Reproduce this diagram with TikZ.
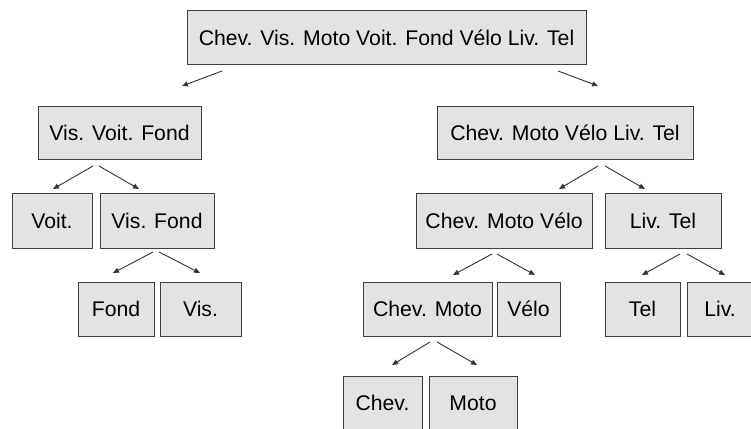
\documentclass[tikz,border=0pt]{standalone}
\usepackage{fontspec}
\setmainfont{Liberation Sans}
\usetikzlibrary{arrows.meta}
\definecolor{boxfill}{HTML}{E3E3E3}
\definecolor{boxline}{HTML}{404040}
\definecolor{arrcol}{HTML}{333333}
\tikzset{
  box/.style={draw=boxline, fill=boxfill, line width=1pt, inner sep=0pt,
    minimum height=54pt, font=\fontsize{21.2}{24}\selectfont},
  arr/.style={draw=arrcol, line width=0.9pt, -{Triangle[length=6pt,width=5pt]}}
}
\begin{document}
\begin{tikzpicture}[x=1pt,y=-1pt]
\clip (0,0) rectangle (751,428);
\fill[white] (0,0) rectangle (751,428);
\node[box, minimum width=399pt, minimum height=53pt] (root) at (386.5,37.5) {Chev. Vis. Moto Voit. Fond Vélo Liv. Tel};
\node[box, minimum width=163pt, minimum height=53pt] (vvf) at (119.5,132.5) {Vis. Voit. Fond};
\node[box, minimum width=256pt, minimum height=53pt] (cmvlt) at (565,132.5) {Chev. Moto Vélo Liv. Tel};
\node[box, minimum width=80pt, minimum height=55pt] (voit) at (52,220.5) {Voit.};
\node[box, minimum width=114pt, minimum height=55pt] (vf) at (157,220.5) {Vis. Fond};
\node[box, minimum width=176pt, minimum height=55pt] (cmv) at (504,220.5) {Chev. Moto Vélo};
\node[box, minimum width=116pt, minimum height=55pt] (lt) at (663,220.5) {Liv. Tel};
\node[box, minimum width=76pt] (fond) at (116,309) {Fond};
\node[box, minimum width=81pt] (vis) at (200.5,309) {Vis.};
\node[box, minimum width=129pt] (cm) at (427.5,309) {Chev. Moto};
\node[box, minimum width=63pt] (velo) at (528.5,309) {Vélo};
\node[box, minimum width=75pt] (tel) at (642.5,309) {Tel};
\node[box, minimum width=66pt] (liv) at (720,309) {Liv.};
\node[box, minimum width=79pt] (chev) at (382.5,403) {Chev.};
\node[box, minimum width=88pt] (moto) at (473,403) {Moto};
% arrow end points
\coordinate (a1s) at (222,71);  \coordinate (a1e) at (182,86);
\coordinate (a2s) at (558,71);  \coordinate (a2e) at (598,86);
\coordinate (a3s) at (93,166);  \coordinate (a3e) at (53,189);
\coordinate (a4s) at (99,166);  \coordinate (a4e) at (139,189);
\coordinate (a5s) at (598,166); \coordinate (a5e) at (559,189);
\coordinate (a6s) at (605,166); \coordinate (a6e) at (645,189);
\coordinate (a7s) at (492,254); \coordinate (a7e) at (453,275);
\coordinate (a8s) at (497,254); \coordinate (a8e) at (535,275);
\coordinate (a9s) at (680,254); \coordinate (a9e) at (642,275);
\coordinate (a10s) at (687,254); \coordinate (a10e) at (725,275);
\coordinate (a11s) at (153,252); \coordinate (a11e) at (113,273);
\coordinate (a12s) at (159,252); \coordinate (a12e) at (200,273);
\coordinate (a13s) at (430,342); \coordinate (a13e) at (392,365);
\coordinate (a14s) at (437,342); \coordinate (a14e) at (477,365);
\foreach \i in {1,...,14} { \draw[arr] (a\i s) -- (a\i e); }
\end{tikzpicture}
\end{document}
